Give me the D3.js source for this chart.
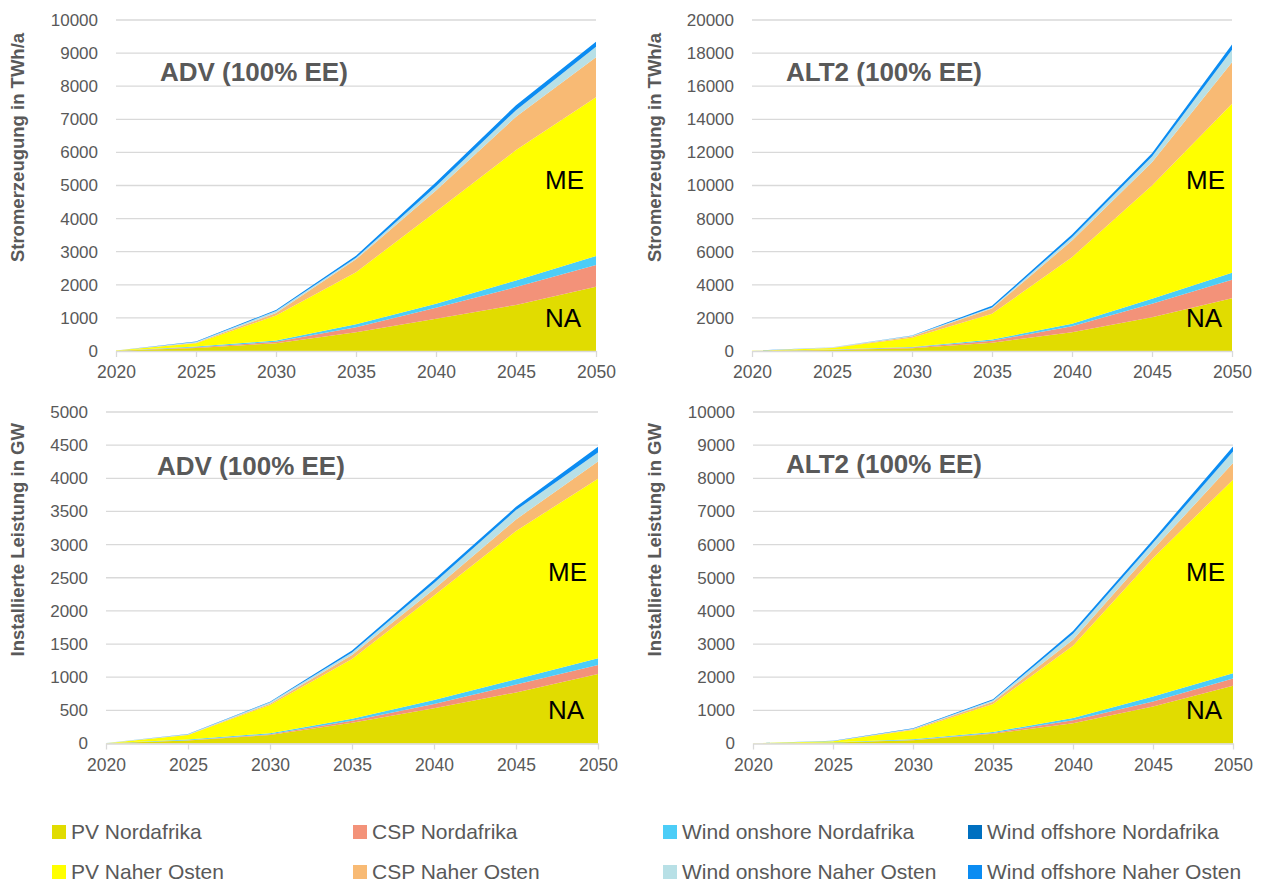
<!doctype html>
<html>
<head>
<meta charset="utf-8">
<script src="https://d3js.org/d3.v7.min.js"></script>
<style>
  body { margin: 0; background: #fff; }
  svg text { font-family: "Liberation Sans", Arial, sans-serif; }
  .grid line { stroke: #d9d9d9; stroke-width: 1.3px; }
  .xaxis path, .xaxis line { stroke: #d9d9d9; stroke-width: 1.3px; }
  .xaxis text, .yaxis text { fill: #595959; font-size: 17px; }
  .xaxis text { font-size: 17.5px; }
  .yaxis path, .yaxis line { display: none; }
</style>
</head>
<body>
<script>

// years on the x axis
var years = [2020, 2025, 2030, 2035, 2040, 2045, 2050];

// series (stack order, bottom to top) and colours
var seriesNames = ["PV Nordafrika", "CSP Nordafrika", "Wind onshore Nordafrika", "Wind offshore Nordafrika",
                   "PV Naher Osten", "CSP Naher Osten", "Wind onshore Naher Osten", "Wind offshore Naher Osten"];
var seriesColors = ["#e1dc00", "#f39279", "#4ccdf7", "#0070c0",
                    "#ffff00", "#f8ba74", "#b8e0e6", "#0b8cf2"];

// Stromerzeugung ADV (TWh/a), one row per series
var advTwh = [
  [5, 90, 235, 570, 975, 1390, 1943],
  [1, 20, 45, 150, 330, 540, 655],
  [1, 25, 35, 90, 120, 200, 270],
  [0, 0, 0, 0, 0, 0, 0],
  [5, 100, 755, 1570, 2790, 3940, 4795],
  [1, 15, 80, 390, 635, 1007, 1210],
  [1, 20, 60, 45, 130, 200, 320],
  [1, 15, 30, 60, 120, 150, 150]
];

// Stromerzeugung ALT2 (TWh/a)
var alt2Twh = [
  [3, 60, 170, 495, 1140, 2040, 3190],
  [1, 15, 40, 120, 360, 810, 1110],
  [1, 15, 25, 80, 140, 300, 425],
  [0, 0, 0, 0, 0, 0, 0],
  [3, 90, 560, 1550, 4030, 6850, 10210],
  [1, 20, 80, 320, 1006, 1410, 2515],
  [1, 20, 40, 60, 204, 340, 750],
  [1, 10, 25, 105, 160, 200, 320]
];

// Installierte Leistung ADV (GW)
var advGw = [
  [2, 45, 128, 314, 531, 770, 1050],
  [0, 5, 12, 30, 66, 120, 135],
  [1, 12, 14, 31, 60, 80, 100],
  [0, 0, 0, 0, 0, 0, 0],
  [2, 65, 427, 901, 1575, 2235, 2710],
  [0, 5, 20, 60, 96, 175, 260],
  [1, 8, 20, 35, 91, 140, 135],
  [0, 3, 10, 30, 50, 50, 85]
];

// Installierte Leistung ALT2 (GW)
var alt2Gw = [
  [2, 30, 97, 296, 610, 1115, 1740],
  [0, 3, 12, 21, 90, 150, 220],
  [1, 5, 18, 30, 70, 150, 160],
  [0, 0, 0, 0, 0, 0, 0],
  [2, 28, 281, 846, 2175, 4180, 5840],
  [0, 5, 20, 69, 181, 254, 500],
  [1, 8, 20, 43, 181, 200, 350],
  [0, 6, 11, 30, 90, 100, 150]
];

var panels = [
  {values: advTwh,  title: "ADV (100% EE)",  yTitle: "Stromerzeugung in TWh/a",
   x0: 116, x1: 596, top: 20, bottom: 351, max: 10000, step: 1000, titleX: 160, titleY: 81, yTitleX: 24, labX: 545},
  {values: alt2Twh, title: "ALT2 (100% EE)", yTitle: "Stromerzeugung in TWh/a",
   x0: 752, x1: 1232, top: 20, bottom: 351, max: 20000, step: 2000, titleX: 786, titleY: 81, yTitleX: 661, labX: 1186},
  {values: advGw,   title: "ADV (100% EE)",  yTitle: "Installierte Leistung in GW",
   x0: 106, x1: 598, top: 412, bottom: 743.5, max: 5000, step: 500, titleX: 157, titleY: 475, yTitleX: 24, labX: 548},
  {values: alt2Gw,  title: "ALT2 (100% EE)", yTitle: "Installierte Leistung in GW",
   x0: 753, x1: 1233, top: 412, bottom: 743.5, max: 10000, step: 1000, titleX: 786, titleY: 473, yTitleX: 661, labX: 1186}
];

var svg = d3.select("body").append("svg")
  .attr("width", 1263)
  .attr("height", 884);

svg.append("rect").attr("width", 1263).attr("height", 884).attr("fill", "#fff");

var keys = d3.range(seriesNames.length);

panels.forEach(function(p) {
  // rows per year for d3.stack
  var table = years.map(function(y, i) {
    var row = {year: y};
    keys.forEach(function(k) { row[k] = p.values[k][i]; });
    return row;
  });

  var x = d3.scalePoint().domain(years).range([p.x0, p.x1]);
  var y = d3.scaleLinear().domain([0, p.max]).range([p.bottom, p.top]);
  var ticks = d3.range(0, p.max + 1, p.step);

  var g = svg.append("g");

  // gridlines
  g.append("g").attr("class", "grid")
    .selectAll("line").data(ticks.slice(1)).join("line")
    .attr("x1", p.x0).attr("x2", p.x1)
    .attr("y1", function(d) { return y(d); })
    .attr("y2", function(d) { return y(d); });

  // stacked areas
  var stack = d3.stack().keys(keys);
  var area = d3.area()
    .x(function(d) { return x(d.data.year); })
    .y0(function(d) { return y(d[0]); })
    .y1(function(d) { return y(d[1]); });

  g.append("g").selectAll("path").data(stack(table)).join("path")
    .attr("fill", function(d) { return seriesColors[d.key]; })
    .attr("d", area);

  // x axis
  g.append("g").attr("class", "xaxis")
    .attr("transform", "translate(0," + p.bottom + ")")
    .call(d3.axisBottom(x).tickSize(6).tickPadding(8).tickSizeOuter(0))
    .call(function(a) { a.selectAll("text").attr("dy", "0.75em"); });

  // y axis
  g.append("g").attr("class", "yaxis")
    .attr("transform", "translate(" + (p.x0 - 10) + ",0)")
    .call(d3.axisLeft(y).tickValues(ticks).tickFormat(d3.format("d")).tickSize(0).tickPadding(8));

  // y axis title
  g.append("text")
    .attr("transform", "translate(" + p.yTitleX + "," + ((p.top + p.bottom) / 2 - 38) + ") rotate(-90)")
    .attr("text-anchor", "middle")
    .attr("font-size", 18.5)
    .attr("font-weight", "bold")
    .attr("fill", "#595959")
    .text(p.yTitle);

  // panel title
  g.append("text")
    .attr("x", p.titleX).attr("y", p.titleY)
    .attr("font-size", 26)
    .attr("font-weight", "bold")
    .attr("fill", "#595959")
    .text(p.title);

  // region labels
  g.append("text").attr("x", p.labX).attr("y", p.top + 169)
    .attr("font-size", 26).attr("fill", "#000").text("ME");
  g.append("text").attr("x", p.labX).attr("y", p.top + 307)
    .attr("font-size", 26).attr("fill", "#000").text("NA");
});

// legend, two rows of four
var legendX = [52, 353, 663, 968];
var legendY = [832, 872];

// row 1 = Nordafrika, row 2 = Naher Osten
var legend = svg.append("g").selectAll("g").data(seriesNames).join("g")
  .attr("transform", function(d, i) {
    var col = i % 4, row = i < 4 ? 0 : 1;
    return "translate(" + legendX[col] + "," + legendY[row] + ")";
  });

legend.append("rect")
  .attr("x", 0).attr("y", -7).attr("width", 14).attr("height", 14)
  .attr("fill", function(d, i) { return seriesColors[i]; });

legend.append("text")
  .attr("x", 19).attr("y", 0).attr("dy", "0.35em")
  .attr("font-size", 21)
  .attr("fill", "#595959")
  .text(function(d) { return d; });

</script>
</body>
</html>
